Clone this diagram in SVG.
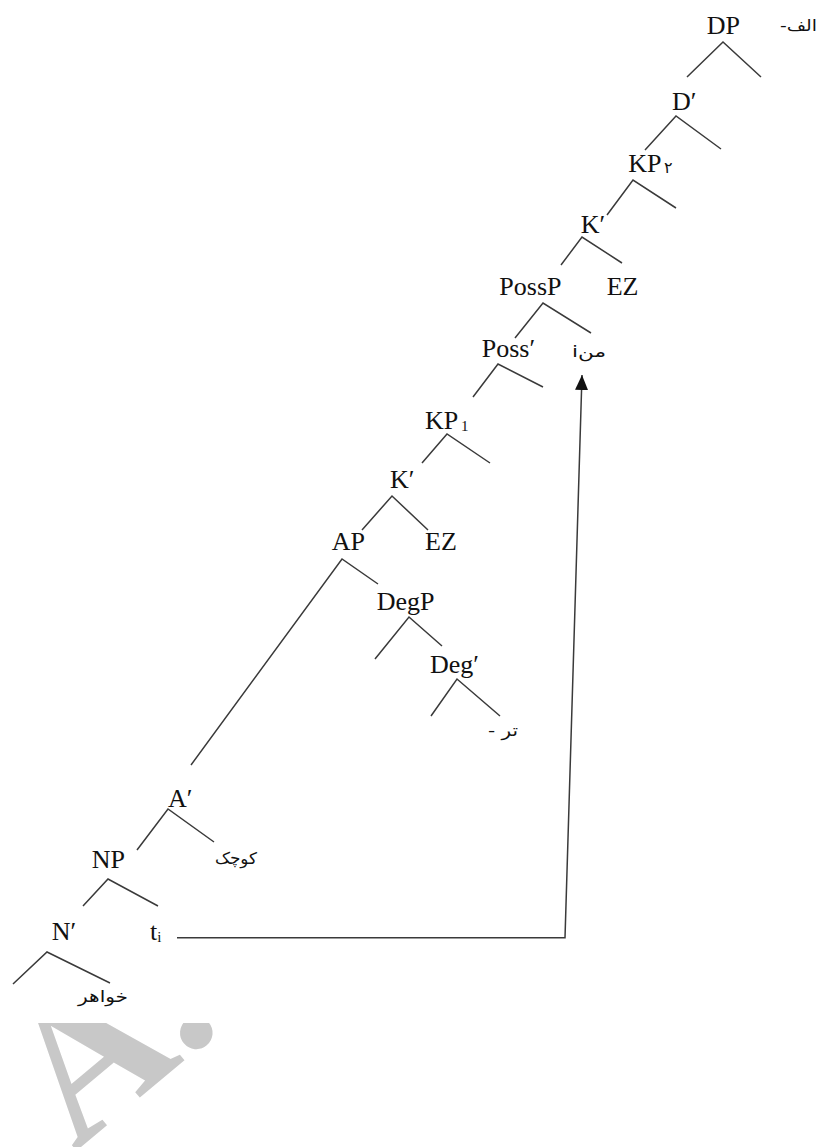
<svg xmlns="http://www.w3.org/2000/svg" width="822" height="1147" viewBox="0 0 822 1147">
<style>
.n{font-family:"Liberation Serif","Times New Roman",serif;font-size:26px;fill:#111}
.s{font-family:"Liberation Serif","Times New Roman",serif;font-size:15px;fill:#111}
.ar{font-family:"DejaVu Sans","Noto Sans",sans-serif;font-size:16px;fill:#111}
.l{stroke:#3a3a3a;stroke-width:1.5;fill:none}
.wm{font-family:"Liberation Serif","Times New Roman",serif;font-size:200px;font-weight:bold;fill:#c8c8c8}
</style>
<defs>
<marker id="ah" markerUnits="userSpaceOnUse" markerWidth="16" markerHeight="14" refX="15" refY="6.5" orient="auto">
<path d="M0,0 L15,6.5 L0,13 z" fill="#111"/>
</marker>
<clipPath id="wmclip"><rect x="0" y="1023" width="822" height="124"/></clipPath>
</defs>
<rect width="822" height="1147" fill="#fff"/>
<g id="watermark" clip-path="url(#wmclip)">
<text class="wm" transform="translate(75,1152) rotate(-40)">A.</text>
</g>
<g id="connectors" class="l">
<path d="M687,77 L723,42 L761,77"/>
<path d="M645,150 L676,116 L721,149"/>
<path d="M607,215 L633,180 L676,208"/>
<path d="M561,265 L582,237 L622,263"/>
<path d="M515,338 L543,303 L591,333"/>
<path d="M473,397 L498,364 L543,387"/>
<path d="M422,463 L447,434 L490,463"/>
<path d="M362,530 L392,496 L428,530"/>
<path d="M191,765 L342,559 L378,584"/>
<path d="M375,659 L409,617 L442,646"/>
<path d="M431,716 L457,679 L500,716"/>
<path d="M137,850 L168,809 L214,842"/>
<path d="M83,906 L108,879 L158,906"/>
<path d="M13,984 L47,952 L110,983"/>
<path d="M177,937.7 L565,937.7 L582,375" marker-end="url(#ah)"/>
</g>
<g id="DP"><text class="n" x="706.7" y="34">DP</text></g>
<g id="alef"><text class="ar" x="780" y="31" textLength="37" lengthAdjust="spacingAndGlyphs">-الف</text></g>
<g id="Dbar"><text class="n" x="672" y="110">D′</text></g>
<g id="KP2"><text class="n" x="628.3" y="171.7">KP</text><text class="ar" x="664" y="173" font-size="11">۲</text></g>
<g id="Kbar2"><text class="n" x="580.7" y="233">K′</text></g>
<g id="PossP"><text class="n" x="499.3" y="295">PossP</text></g>
<g id="EZ2"><text class="n" x="606.7" y="295">EZ</text></g>
<g id="Possbar"><text class="n" x="481.7" y="357">Poss′</text></g>
<g id="mani"><text class="ar" x="572" y="357" font-size="14" textLength="34" lengthAdjust="spacingAndGlyphs">iمن</text></g>
<g id="KP1"><text class="n" x="425" y="429">KP</text><text class="s" x="461" y="431">1</text></g>
<g id="Kbar1"><text class="n" x="390" y="488">K′</text></g>
<g id="EZ1"><text class="n" x="425" y="550">EZ</text></g>
<g id="AP"><text class="n" x="331.7" y="550">AP</text></g>
<g id="DegP"><text class="n" x="376.7" y="610">DegP</text></g>
<g id="Degbar"><text class="n" x="430" y="673">Deg′</text></g>
<g id="tar"><text class="ar" x="488" y="736" textLength="30" lengthAdjust="spacingAndGlyphs">- تر</text></g>
<g id="Abar"><text class="n" x="168" y="807">A′</text></g>
<g id="kuchak"><text class="ar" x="215" y="864" textLength="42" lengthAdjust="spacingAndGlyphs">کوچک</text></g>
<g id="NP"><text class="n" x="91.7" y="868">NP</text></g>
<g id="Nbar"><text class="n" x="51.7" y="940">N′</text></g>
<g id="ti"><text class="n" x="150" y="940">t<tspan class="s" font-size="12" dy="2">i</tspan></text></g>
<g id="khahar"><text class="ar" x="78" y="1002" font-size="17" textLength="50" lengthAdjust="spacingAndGlyphs">خواهر</text></g>
</svg>
